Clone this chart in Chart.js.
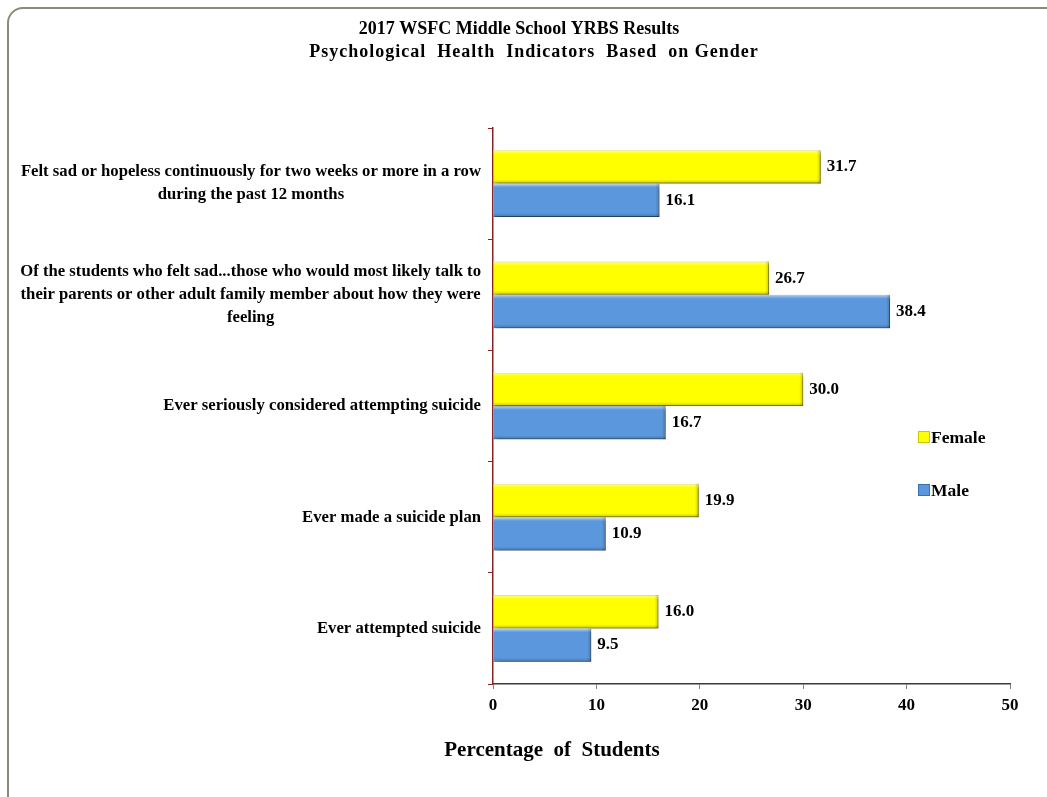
<!DOCTYPE html>
<html>
<head>
<meta charset="utf-8">
<script src="https://cdn.jsdelivr.net/npm/chart.js@4.4.1/dist/chart.umd.min.js"></script>
<style>
  html, body { margin: 0; padding: 0; background: #fff; overflow: hidden; }
  #wrap { position: relative; width: 1047px; height: 797px; }
  #frame {
    position: absolute; left: 7px; top: 7px; width: 1100px; height: 850px;
    border: 2px solid #8c8a78; border-radius: 16px; box-sizing: border-box;
  }
  canvas { position: absolute; left: 0; top: 0; }
</style>
</head>
<body>
<div id="wrap">
  <div id="frame"></div>
  <canvas id="chart" width="1047" height="797"></canvas>
</div>
<script>
const titleLines = ["2017 WSFC Middle School YRBS Results", "Psychological  Health  Indicators  Based  on Gender"];
const categories = [
  ["Felt sad or hopeless continuously for two weeks or more in a row", "during the past 12 months"],
  ["Of the students who felt sad...those who would most likely talk to", "their parents or other adult family member about how they were", "feeling"],
  ["Ever seriously considered attempting suicide"],
  ["Ever made a suicide plan"],
  ["Ever attempted suicide"]
];
const female = [31.7, 26.7, 30.0, 19.9, 16.0];
const male = [16.1, 38.4, 16.7, 10.9, 9.5];
const xTicks = [0, 10, 20, 30, 40, 50];

const SERIF = "'Liberation Serif', 'Times New Roman', serif";
const YELLOW = "#ffff00";
const BLUE = "#5b97dc";

// title, bevel, shadow, value labels, category labels and legend
const decor = {
  id: "decor",
  beforeDatasetsDraw(chart) {
    const ctx = chart.ctx;
    ctx.save();
    ctx.shadowColor = "rgba(0,0,0,0.35)";
    ctx.shadowOffsetX = 2;
    ctx.shadowOffsetY = 3;
    ctx.shadowBlur = 4;
  },
  afterDatasetsDraw(chart) {
    const ctx = chart.ctx;
    ctx.restore();

    // bevel highlights on each bar
    chart.data.datasets.forEach((ds, di) => {
      chart.getDatasetMeta(di).data.forEach(bar => {
        const top = bar.y - bar.height / 2;
        const bot = bar.y + bar.height / 2;
        const left = bar.base, right = bar.x;
        const e = 4;
        let g = ctx.createLinearGradient(0, top, 0, top + e);
        g.addColorStop(0, "rgba(255,255,255,0.55)");
        g.addColorStop(1, "rgba(255,255,255,0)");
        ctx.fillStyle = g;
        ctx.fillRect(left, top, right - left, e);
        g = ctx.createLinearGradient(0, bot - e, 0, bot);
        g.addColorStop(0, "rgba(0,0,0,0)");
        g.addColorStop(1, "rgba(0,0,0,0.22)");
        ctx.fillStyle = g;
        ctx.fillRect(left, bot - e, right - left, e);
        g = ctx.createLinearGradient(right - e, 0, right, 0);
        g.addColorStop(0, "rgba(0,0,0,0)");
        g.addColorStop(1, "rgba(0,0,0,0.2)");
        ctx.fillStyle = g;
        ctx.fillRect(right - e, top, e, bot - top);
      });
    });

    ctx.save();
    ctx.fillStyle = "#000";
    ctx.textBaseline = "middle";

    // two-line title, second line a little spread out
    ctx.textAlign = "center";
    ctx.font = "bold 18px " + SERIF;
    ctx.fillText(titleLines[0], 519, 29);
    ctx.letterSpacing = "1px";
    ctx.fillText(titleLines[1], 534, 52);
    ctx.letterSpacing = "0px";

    // value labels at the end of each bar
    ctx.font = "bold 17px " + SERIF;
    ctx.textAlign = "left";
    chart.data.datasets.forEach((ds, di) => {
      chart.getDatasetMeta(di).data.forEach((bar, i) => {
        ctx.fillText(ds.data[i].toFixed(1), bar.x + 6, bar.y);
      });
    });

    // category labels, each block right aligned, lines centred within it
    const yScale = chart.scales.y;
    const right = chart.chartArea.left - 12;
    const lh = 23;
    ctx.font = "bold 16.7px " + SERIF;
    ctx.textAlign = "center";
    categories.forEach((lines, i) => {
      const cy = yScale.getPixelForValue(i);
      const w = Math.max(...lines.map(l => ctx.measureText(l).width));
      const cx = right - w / 2;
      const y0 = cy - (lines.length - 1) * lh / 2;
      lines.forEach((l, k) => ctx.fillText(l, cx, y0 + k * lh));
    });

    // x axis title
    ctx.font = "bold 21px " + SERIF;
    ctx.fillText("Percentage  of  Students", 552, 751);

    // legend
    ctx.font = "bold 17.5px " + SERIF;
    ctx.textAlign = "left";
    const items = [["Female", YELLOW, "#c8c800"], ["Male", BLUE, "#3c6fae"]];
    items.forEach((it, k) => {
      const ly = 437 + k * 53;
      ctx.fillStyle = it[1];
      ctx.fillRect(918, ly - 6, 12, 12);
      ctx.strokeStyle = it[2];
      ctx.lineWidth = 1;
      ctx.strokeRect(918.5, ly - 5.5, 11, 11);
      ctx.fillStyle = "#000";
      ctx.fillText(it[0], 931, ly + 1);
    });
    ctx.restore();
  }
};

new Chart(document.getElementById("chart"), {
  type: "bar",
  data: {
    labels: categories,
    datasets: [
      { label: "Female", data: female, backgroundColor: YELLOW, borderColor: "#d0d000", borderWidth: 1 },
      { label: "Male", data: male, backgroundColor: BLUE, borderColor: "#3f74b4", borderWidth: 1 }
    ]
  },
  options: {
    indexAxis: "y",
    responsive: false,
    animation: false,
    events: [],
    categoryPercentage: 0.6,
    barPercentage: 1.0,
    layout: { padding: { top: 128, right: 37, bottom: 0, left: 0 } },
    plugins: {
      legend: { display: false },
      tooltip: { enabled: false },
      title: { display: false }
    },
    scales: {
      x: {
        min: 0, max: 50,
        afterBuildTicks: s => { s.ticks = xTicks.map(v => ({ value: v })); },
        afterFit: s => { s.height = 113; },
        border: { color: "#3a3a3a", width: 1.5 },
        grid: { drawOnChartArea: false, tickLength: 5, color: "#808080" },
        ticks: { color: "#000", padding: 6, font: { family: SERIF, size: 17, weight: "bold" } }
      },
      y: {
        afterFit: s => { s.width = 493; },
        border: { color: "#8b2323", width: 1.5 },
        grid: { drawOnChartArea: false, tickLength: 5, color: "#8b2323", offset: true },
        ticks: { display: false }
      }
    }
  },
  plugins: [decor]
});
</script>
</body>
</html>
